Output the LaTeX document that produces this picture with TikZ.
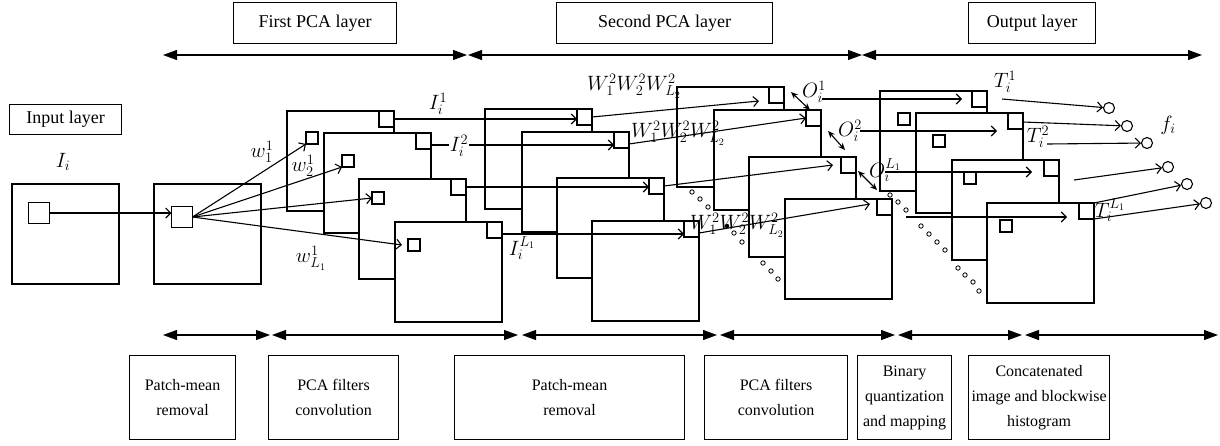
\documentclass[tikz,border=0pt]{standalone}
\usepackage{fontspec}
\setmainfont{Liberation Serif}
\usetikzlibrary{arrows.meta,calc}
\begin{document}
\begin{tikzpicture}[x=1pt,y=-1pt, line width=1.1pt,
 map/.style={draw, fill=white, minimum width=107pt, minimum height=100pt, anchor=north west, inner sep=0pt, outer sep=0pt},
 csq/.style={draw, fill=white, minimum width=15pt, minimum height=16pt, anchor=north east, inner sep=0pt, outer sep=0pt},
 isq/.style={draw, fill=white, minimum size=12pt, inner sep=0pt, outer sep=0pt},
 lbox/.style={draw, anchor=north west, inner sep=0pt, align=center, font=\fontsize{18}{22}\selectfont},
 sbox/.style={draw, anchor=north west, inner sep=0pt, align=center, minimum height=84pt, font=\fontsize{16}{25}\selectfont},
 conn/.style={-{Straight Barb[length=5pt,width=10pt]}},
 dimarr/.style={{Triangle[length=14pt,width=10pt]}-{Triangle[length=14pt,width=10pt]}},
 dbl/.style={{Stealth[length=7pt,width=6pt]}-{Stealth[length=7pt,width=6pt]}},
 endc/.style={draw, circle, inner sep=0pt, minimum size=11pt, fill=white},
 lab/.style={inner sep=0pt, font=\fontsize{20}{24}\selectfont}
]
\useasboundingbox (0,0) rectangle (1220,445);

% title boxes
\node[lbox, minimum width=163pt, minimum height=41pt] (fpl) at (233,2) {First PCA layer};
\node[lbox, minimum width=216pt, minimum height=41pt] (spl) at (556,2) {Second PCA layer};
\node[lbox, minimum width=127pt, minimum height=41pt] (oul) at (968,2) {Output layer};
\node[lbox, minimum width=112pt, minimum height=30pt] (inl) at (9,104) {Input layer};

% bottom boxes
\node[sbox, minimum width=106pt] (pm1) at (129,355) {Patch-mean\\removal};
\node[sbox, minimum width=130pt] (pf1) at (268,355) {PCA filters\\convolution};
\node[sbox, minimum width=230pt] (pm2) at (454,355) {Patch-mean\\removal};
\node[sbox, minimum width=143pt] (pf2) at (704,355) {PCA filters\\convolution};
\node[sbox, minimum width=94pt] (bq) at (857,355) {Binary\\quantization\\and mapping};
\node[sbox, minimum width=141pt] (ch) at (968,355) {Concatenated\\image and blockwise\\histogram};

% dimension arrows
\draw[dimarr] (163,55) -- (467,55);
\draw[dimarr] (468,55) -- (862,55);
\draw[dimarr] (862,55) -- (1202,55);
\draw[dimarr] (163,335) -- (270,335);
\draw[dimarr] (272,335) -- (518,335);
\draw[dimarr] (522,335) -- (717,335);
\draw[dimarr] (720,335) -- (895,335);
\draw[dimarr] (898,335) -- (1022,335);
\draw[dimarr] (1025,335) -- (1218,335);

% input and patch-mean maps
\node[map] (inp) at (12,184) {};
\node[isq, minimum size=21pt] (inpsq) at (39,213) {};
\node[map] (pmr) at (154,184) {};
\node[isq, minimum size=21pt] (pmrsq) at (182,217) {};

% first layer maps
\node[map] (a1) at (287,111) {}; \node[csq] (a1c) at (a1.north east) {}; \node[isq] (a1i) at (312,138) {};
\node[map] (a2) at (324,133) {}; \node[csq] (a2c) at (a2.north east) {}; \node[isq] (a2i) at (348,161) {};
\node[map] (a3) at (359,179) {}; \node[csq] (a3c) at (a3.north east) {}; \node[isq] (a3i) at (378,198) {};
\node[map] (a4) at (395,222) {}; \node[csq] (a4c) at (a4.north east) {}; \node[isq] (a4i) at (414,245) {};

% second layer maps
\node[map] (b1) at (485,109) {}; \node[csq] (b1c) at (b1.north east) {};
\node[map] (b2) at (522,132) {}; \node[csq] (b2c) at (b2.north east) {};
\node[map] (b3) at (557,178) {}; \node[csq] (b3c) at (b3.north east) {};
\node[map] (b4) at (592,221) {}; \node[csq] (b4c) at (b4.north east) {};

% third maps
\node[map] (c1) at (677,87) {}; \node[csq] (c1c) at (c1.north east) {};
\node[map] (c2) at (714,110) {}; \node[csq] (c2c) at (c2.north east) {};
\node[map] (c3) at (749,157) {}; \node[csq] (c3c) at (c3.north east) {};
\node[map] (c4) at (785,199) {}; \node[csq] (c4c) at (c4.north east) {};

% output maps
\node[map] (d1) at (880,91) {}; \node[csq] (d1c) at (d1.north east) {}; \node[isq] (d1i) at (904,119) {};
\node[map] (d2) at (916,113) {}; \node[csq] (d2c) at (d2.north east) {}; \node[isq] (d2i) at (939,141) {};
\node[map] (d3) at (952,160) {}; \node[csq] (d3c) at (d3.north east) {}; \node[isq] (d3i) at (970,178) {};
\node[map] (d4) at (987,203) {}; \node[csq] (d4c) at (d4.north east) {}; \node[isq] (d4i) at (1006,226) {};

% dots
\foreach \x/\y in {692/192,700/199,708/207,734/233,742/242,763/263,771/271,778/279,
  890/195,898/202,906/210,921/226,929/234,937/242,945/250,958/268,965/275,973/282,979/291}
  \draw[line width=0.8pt, fill=white] (\x,\y) circle[radius=2.2pt];
\fill (727,226) circle[radius=2.2pt];

% connectors
\draw[conn] (inpsq.east) -- (inpsq.east -| pmrsq.west);
\draw[conn] (pmrsq.east) -- (a1i.south west);
\draw[conn] (pmrsq.east) -- (a2i.south west);
\draw[conn] (pmrsq.east) -- (a3i.west);
\draw[conn] (pmrsq.east) -- ($(a4i.west)+(-6,0)$);

\draw[conn] (a1c.east) -- (a1c.east -| b1c.west);
\draw[conn] ($(a2c.east)+(0,4)$) -- ($(a2c.east -| b2c.west)+(0,4)$);
\draw[conn] (a3c.east) -- (a3c.east -| b3c.west);
\draw[conn] ($(a4c.east)+(0,4)$) -- ($(a4c.east -| b4c.west)+(0,4)$);

\draw[conn] (b1c.east) -- ($(c1c.south west)+(-10,-2)$);
\draw[conn] ($(b2c.east)+(0,4)$) -- (c2c.west);
\draw[conn] (b3c.east) -- ($(c3c.west)+(-8,0)$);
\draw[conn] ($(b4c.east)+(0,4)$) -- ($(c4c.west)+(-7,-3)$);

\draw[dbl] ($(c1c.north east)+(7,5)$) -- ($(c2c.north west)+(4,0)$);
\draw[dbl] ($(c2c.north east)+(7,21)$) -- ($(c3c.north west)+(4,-7)$);
\draw[dbl] ($(c3c.north east)+(2,14)$) -- ($(c4c.north west)+(0,-9)$);

\coordinate (o1s) at (822,99);
\coordinate (o2s) at (860,131);
\coordinate (o3s) at (885,172);
\coordinate (o4s) at (906,217);
\draw[conn] (o1s) -- ($(o1s -| d1c.west)+(-10,0)$);
\draw[conn] (o2s) -- ($(o2s -| d2c.west)+(-11,0)$);
\draw[conn] (o3s) -- ($(o3s -| d3c.west)+(-12,0)$);
\draw[conn] (o4s) -- ($(o4s -| d4c.west)+(-12,0)$);

\node[endc] (f1) at (1109,108) {};
\node[endc] (f2) at (1127,126) {};
\node[endc] (f3) at (1147,143) {};
\node[endc] (f4) at (1168,167) {};
\node[endc] (f5) at (1187,184) {};
\node[endc] (f6) at (1206,203) {};
\coordinate (t1s) at (1002,99);
\coordinate (t2s) at (1047,144);
\coordinate (t3s) at (1074,180);
\draw[conn] (t1s) -- (f1);
\draw[conn] ($(d2c.east)+(0,1)$) -- (f2);
\draw[conn] (t2s) -- (f3);
\draw[conn] (t3s) -- (f4);
\draw[conn] (d4c.north east) -- (f5);
\draw[conn] (d4c.south east) -- (f6);

% labels
\node[lab] (lI) at (63,162) {$I_i$};
\node[lab] (lw11) at (262,152) {$w_1^1$};
\node[lab] (lw21) at (303,166) {$w_2^1$};
\node[lab] (lwL1) at (311,258) {$w_{L_1}^1$};
\node[lab] (lI1) at (438,104) {$I_i^1$};
\node[lab, fill=white, inner sep=1pt] (lI2) at (459,146) {$I_i^2$};
\node[lab] (lIL) at (522,248) {$I_i^{L_1}$};
\node[lab] (lw1) at (634,86) {$W_1^2W_2^2W_{L_2}^2$};
\node[lab] (lw2) at (678,133) {$W_1^2W_2^2W_{L_2}^2$};
\node[lab] (lw3) at (737,225) {$W_1^2W_2^2W_{L_2}^2$};
\node[lab] (lo1) at (814,92) {$O_i^1$};
\node[lab] (lo2) at (850,131) {$O_i^2$};
\node[lab] (lo3) at (885,170) {$O_i^{L_1}$};
\node[lab] (lt1) at (1005,82) {$T_i^1$};
\node[lab] (lt2) at (1038,137) {$T_i^2$};
\node[lab] (lt3) at (1110,210) {$T_i^{L_1}$};
\node[lab] (lf) at (1168,125) {$f_i$};
\end{tikzpicture}
\end{document}
